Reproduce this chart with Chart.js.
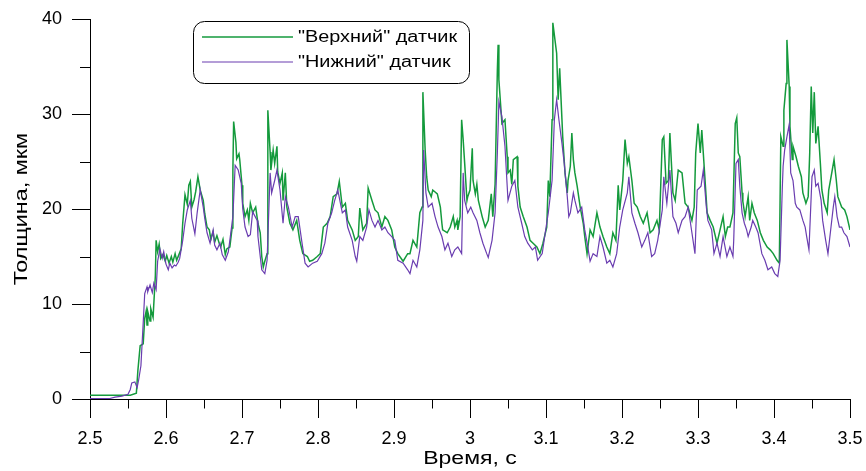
<!DOCTYPE html>
<html>
<head>
<meta charset="utf-8">
<script src="https://cdn.jsdelivr.net/npm/chart.js@4.4.1/dist/chart.umd.min.js"></script>
<style>
  body { margin: 0; background: #fff; }
  canvas { display: block; }
</style>
</head>
<body>
<canvas id="thickness" width="866" height="471"></canvas>
<script>
// "Верхний" датчик
const topTime = [2.500,2.526,2.553,2.561,2.563,2.566,2.570,2.572,2.574,2.575,2.576,2.579,2.580,2.583,2.586,2.587,2.589,2.591,2.593,2.596,2.599,2.601,2.604,2.607,2.609,2.612,2.614,2.617,2.620,2.622,2.625,2.628,2.630,2.632,2.634,2.637,2.639,2.642,2.645,2.649,2.651,2.654,2.657,2.659,2.662,2.664,2.667,2.670,2.672,2.675,2.678,2.680,2.684,2.687,2.688,2.689,2.692,2.693,2.696,2.697,2.700,2.701,2.704,2.707,2.709,2.711,2.714,2.718,2.721,2.724,2.726,2.728,2.730,2.733,2.734,2.737,2.738,2.741,2.743,2.746,2.747,2.750,2.753,2.754,2.757,2.759,2.763,2.767,2.772,2.776,2.780,2.786,2.789,2.793,2.799,2.803,2.807,2.812,2.816,2.820,2.825,2.828,2.832,2.836,2.839,2.845,2.849,2.853,2.855,2.859,2.864,2.866,2.871,2.875,2.879,2.884,2.888,2.892,2.897,2.901,2.905,2.912,2.918,2.921,2.925,2.930,2.934,2.937,2.938,2.941,2.943,2.945,2.949,2.951,2.957,2.961,2.963,2.964,2.970,2.974,2.978,2.980,2.983,2.984,2.987,2.989,2.991,2.993,2.996,2.997,3.000,3.003,3.004,3.007,3.009,3.011,3.016,3.020,3.024,3.028,3.030,3.033,3.036,3.037,3.038,3.042,3.046,3.049,3.050,3.053,3.055,3.057,3.062,3.063,3.066,3.070,3.075,3.079,3.083,3.088,3.092,3.096,3.101,3.103,3.105,3.108,3.109,3.114,3.116,3.118,3.121,3.122,3.125,3.128,3.129,3.132,3.134,3.136,3.138,3.141,3.145,3.149,3.151,3.154,3.158,3.162,3.167,3.171,3.175,3.180,3.184,3.188,3.192,3.195,3.197,3.201,3.204,3.207,3.209,3.213,3.216,3.220,3.224,3.228,3.233,3.237,3.241,3.246,3.249,3.253,3.255,3.258,3.261,3.263,3.267,3.270,3.274,3.279,3.283,3.287,3.292,3.295,3.297,3.300,3.303,3.305,3.309,3.312,3.316,3.320,3.325,3.329,3.333,3.336,3.339,3.342,3.346,3.349,3.351,3.353,3.355,3.358,3.359,3.362,3.366,3.368,3.371,3.374,3.378,3.382,3.386,3.391,3.395,3.399,3.404,3.407,3.409,3.412,3.413,3.416,3.417,3.420,3.421,3.424,3.425,3.429,3.432,3.436,3.438,3.442,3.445,3.447,3.449,3.451,3.453,3.455,3.458,3.461,3.463,3.466,3.470,3.472,3.476,3.479,3.482,3.484,3.489,3.493,3.496,3.500];
const topValue = [0.4,0.4,0.4,0.6,3.0,5.6,5.8,8.5,9.3,7.8,9.2,8.2,9.5,8.6,13,16.7,15.5,16.3,14.8,15.2,14.5,15.1,14.3,15.0,14.4,15.3,14.6,15.2,15.8,18.5,21.5,20.5,22.5,22.9,20.2,21.0,21.8,23.4,22.0,20.9,19.5,18.1,17.8,16.8,17.6,16.5,17.2,16.4,16.0,16.8,15.2,15.8,16.0,18.0,24,29.2,27,25.3,25.8,25.2,22.5,20.6,19.2,19.9,18.8,20.6,19.6,20.2,18.5,17.5,15.0,13.9,14.5,15.3,30.4,26,24.1,26.2,24.8,26.6,23.9,22.7,23.8,20.9,23.8,20.2,18.5,17.8,18.8,16.7,15.3,15.0,14.5,14.6,15.0,15.3,18.1,18.5,19.2,21.3,21.6,22.9,20.2,20.6,18.8,17.8,16.7,17.1,20.1,17.8,18.5,22.2,20.9,19.9,19.6,18.1,19.2,18.8,17.8,16.0,15.3,14.5,15.3,15.3,16.7,16.0,19.6,20.2,32.3,26.2,23.4,22.0,21.3,22.0,21.6,20.2,18.5,17.8,17.5,18.1,19.2,18.1,18.8,17.8,19.2,29.4,27.3,24.8,20.9,21.3,22.0,26.4,23.0,21.6,22.6,20.9,19.2,18.1,18.8,21.6,19.2,22.6,34.6,37.3,33.6,29.0,29.4,25.5,23.8,24.1,22.6,25.2,25.5,22.4,20.2,19.2,18.1,16.7,16.4,16.0,15.3,16.4,18.1,23.0,21.3,29.4,39.6,36.4,31.5,34.8,29.4,27.6,23.8,21.7,23.0,24.5,28.0,25.2,23.8,22.4,20.2,18.5,17.1,15.3,17.8,17.1,19.6,18.1,17.1,16.0,15.3,17.5,16.7,22.5,19.9,23.0,27.3,24.8,25.5,23.0,20.6,20.2,19.2,18.5,19.6,17.5,17.8,18.8,17.8,27.3,27.6,22.7,23.0,28.0,21.7,20.9,24.1,23.8,20.6,20.2,18.8,20.2,25.9,29.0,25.9,28.3,23.4,19.6,18.8,18.1,16.4,17.8,19.2,17.1,18.1,18.1,19.6,29.0,29.6,25.9,25.5,21.7,20.8,19.2,21.3,18.8,20.6,19.6,18.8,17.5,16.7,16.0,15.7,15.3,14.6,14.3,27.6,26.6,30.4,33.2,37.8,32.9,28.7,25.2,26.6,25.5,24.5,23.4,21.7,20.6,21.3,25.9,32.9,28.0,32.3,26.9,28.7,24.8,22.0,20.6,19.6,22.0,23.8,25.2,23.0,21.3,20.2,19.9,19.2,17.8];

// "Нижний" датчик
const bottomTime = [2.500,2.526,2.533,2.542,2.550,2.553,2.555,2.559,2.562,2.564,2.567,2.570,2.572,2.575,2.576,2.579,2.582,2.584,2.587,2.589,2.592,2.595,2.597,2.600,2.603,2.605,2.608,2.611,2.613,2.616,2.618,2.622,2.625,2.628,2.632,2.634,2.638,2.641,2.645,2.649,2.651,2.654,2.658,2.662,2.664,2.667,2.671,2.674,2.678,2.682,2.684,2.688,2.691,2.695,2.699,2.701,2.704,2.708,2.711,2.714,2.720,2.721,2.726,2.730,2.733,2.737,2.739,2.743,2.746,2.750,2.754,2.757,2.761,2.766,2.770,2.774,2.779,2.783,2.787,2.793,2.799,2.805,2.809,2.813,2.818,2.822,2.826,2.832,2.836,2.839,2.845,2.849,2.851,2.855,2.859,2.864,2.867,2.871,2.875,2.879,2.884,2.888,2.892,2.897,2.901,2.905,2.912,2.918,2.921,2.925,2.930,2.934,2.938,2.939,2.942,2.945,2.950,2.954,2.958,2.963,2.967,2.971,2.976,2.980,2.984,2.989,2.991,2.993,2.997,3.001,3.004,3.009,3.013,3.017,3.022,3.024,3.029,3.033,3.036,3.038,3.042,3.046,3.050,3.055,3.059,3.063,3.068,3.072,3.076,3.082,3.086,3.089,3.095,3.099,3.103,3.108,3.111,3.114,3.117,3.121,3.124,3.128,3.130,3.132,3.136,3.138,3.142,3.147,3.151,3.155,3.158,3.162,3.167,3.171,3.175,3.180,3.184,3.188,3.193,3.197,3.201,3.207,3.209,3.213,3.217,3.221,3.226,3.230,3.234,3.239,3.243,3.247,3.253,3.255,3.259,3.263,3.267,3.271,3.274,3.279,3.283,3.287,3.292,3.296,3.299,3.304,3.307,3.311,3.313,3.318,3.321,3.325,3.329,3.333,3.338,3.342,3.346,3.347,3.350,3.353,3.355,3.358,3.361,3.364,3.366,3.370,3.372,3.376,3.379,3.384,3.388,3.392,3.397,3.401,3.405,3.408,3.411,3.412,3.414,3.417,3.420,3.422,3.425,3.428,3.430,3.434,3.438,3.441,3.443,3.446,3.450,3.453,3.455,3.458,3.462,3.464,3.468,3.471,3.475,3.478,3.480,3.483,3.486,3.489,3.492,3.496,3.500];
const bottomValue = [0.05,0.05,0.2,0.3,0.5,1.0,1.7,1.8,1.2,2.0,3.5,8,11.1,11.8,11.3,12.0,11.2,12.2,11.5,14.5,15.8,14.8,15.5,14.2,13.6,14.3,13.8,14.1,14.0,14.4,14.8,16.7,18.5,19.9,20.9,19.0,17.4,19.6,22.0,20.2,19.0,17.5,16.4,17.8,16.2,15.7,16.4,15.2,14.6,15.5,16.7,19.2,24.6,24.1,22.7,20.0,18.1,17.1,17.3,19.7,18.8,17.1,13.6,13.2,14.6,23.8,21.7,23.0,24.1,22.0,18.5,21.3,20.2,18.1,19.2,19.2,16.4,14.3,13.9,14.3,14.5,15.3,16.4,18.5,19.6,20.9,22.0,19.6,19.9,18.1,16.7,15.0,14.5,17.1,16.7,18.1,19.9,18.8,18.1,18.8,17.8,18.1,17.5,17.1,16.7,14.6,14.3,13.6,13.2,14.6,13.9,15.7,18.8,26.2,21.7,20.2,20.6,19.2,18.1,17.1,15.7,16.4,15.0,15.7,16.0,15.3,23.8,20.9,19.6,20.2,19.6,18.8,17.5,16.4,15.3,14.9,16.7,19.6,25.9,31.3,29.7,26.6,20.9,22.4,23.0,20.2,18.5,17.1,16.4,15.7,16.0,14.6,15.3,17.5,19.6,23.0,29.4,31.5,29.4,26.9,24.8,21.3,19.2,19.6,21.7,20.9,19.6,20.2,17.8,16.0,14.5,15.3,15.0,17.1,16.0,14.3,14.6,13.9,15.3,18.1,19.9,21.7,23.4,19.6,18.5,17.5,16.0,16.7,17.5,15.0,15.3,16.7,19.9,23.4,20.6,24.1,19.2,18.5,17.5,18.8,19.2,20.2,17.5,15.3,22.0,22.4,24.1,20.2,18.8,17.8,15.3,16.4,15.0,17.1,15.0,16.0,15.0,16.7,24.8,25.2,22.4,19.6,18.5,17.8,17.1,18.1,18.8,18.1,17.5,15.3,14.6,13.6,13.9,13.2,12.9,14.6,22.4,24.5,26.2,27.6,28.9,23.8,23.0,20.6,20.2,19.9,18.8,18.1,17.1,15.7,23.4,24.1,22.4,22.7,20.9,18.8,16.7,15.3,18.1,20.2,21.3,19.2,18.1,18.1,17.5,17.1,16.0];

const seriesNames = ['"Верхний" датчик', '"Нижний" датчик'];
const seriesColors = ['#149a3c', '#6a3db0'];
const xTitle = 'Время, с';
const yTitle = 'Толщина, мкм';

const fontFamily = '"Liberation Sans", Arial, sans-serif';

function toPoints(times, values) {
    return times.map((t, i) => ({ x: t, y: values[i] }));
}

// text in the original figure is wider than Arial at the same height
function wideText(ctx, text, x, y, stretch) {
    ctx.save();
    ctx.translate(x, y);
    ctx.scale(stretch, 1);
    ctx.fillText(text, 0, 0);
    ctx.restore();
}

// major/minor tick marks drawn from the scales' own ticks
const tickMarks = {
    id: 'tickMarks',
    afterDraw(chart) {
        const ctx = chart.ctx;
        const xs = chart.scales.x;
        const ys = chart.scales.y;
        ctx.save();
        ctx.strokeStyle = '#000';
        ctx.lineWidth = 1;
        ctx.beginPath();
        xs.ticks.forEach(t => {
            const px = Math.round(xs.getPixelForValue(t.value)) + 0.5;
            const len = t.label !== '' ? 19 : 9.5;
            ctx.moveTo(px, ys.bottom);
            ctx.lineTo(px, ys.bottom + len);
        });
        ys.ticks.forEach(t => {
            const py = Math.round(ys.getPixelForValue(t.value)) + 0.5;
            const len = t.label !== '' ? 18 : 10;
            ctx.moveTo(xs.left, py);
            ctx.lineTo(xs.left - len, py);
        });
        ctx.stroke();

        // axis titles
        const area = chart.chartArea;
        ctx.fillStyle = '#000';
        ctx.font = '18px ' + fontFamily;
        ctx.textAlign = 'center';
        ctx.textBaseline = 'middle';
        wideText(ctx, xTitle, (area.left + area.right) / 2, 459, 1.28);
        ctx.save();
        ctx.translate(22, (area.top + area.bottom) / 2);
        ctx.rotate(-Math.PI / 2);
        wideText(ctx, yTitle, 0, 0, 1.3);
        ctx.restore();
        ctx.restore();
    }
};

// framed legend with rounded corners
const boxLegend = {
    id: 'boxLegend',
    afterDraw(chart) {
        const ctx = chart.ctx;
        const x = 193.5, y = 21.5, w = 276, h = 62, r = 11;
        ctx.save();
        ctx.fillStyle = '#fff';
        ctx.strokeStyle = '#000';
        ctx.lineWidth = 1;
        ctx.beginPath();
        ctx.roundRect(x, y, w, h, r);
        ctx.fill();
        ctx.stroke();
        ctx.font = '16px ' + fontFamily;
        ctx.textBaseline = 'middle';
        ctx.textAlign = 'left';
        ctx.fillStyle = '#000';
        seriesNames.forEach((name, i) => {
            const ly = 37 + i * 25;
            ctx.strokeStyle = seriesColors[i];
            ctx.lineWidth = i === 0 ? 1.5 : 1.2;
            ctx.beginPath();
            ctx.moveTo(202, ly);
            ctx.lineTo(293, ly);
            ctx.stroke();
            wideText(ctx, name, 298, ly + 1, 1.24);
        });
        ctx.restore();
    }
};

new Chart(document.getElementById('thickness'), {
    type: 'line',
    data: {
        datasets: [{
            label: seriesNames[0],
            data: toPoints(topTime, topValue),
            borderColor: seriesColors[0],
            borderWidth: 1.5,
            pointRadius: 0,
            tension: 0,
            order: 1
        }, {
            label: seriesNames[1],
            data: toPoints(bottomTime, bottomValue),
            borderColor: seriesColors[1],
            borderWidth: 1.2,
            pointRadius: 0,
            tension: 0,
            order: 0
        }]
    },
    options: {
        responsive: false,
        animation: false,
        layout: { padding: { top: 19, right: 16, left: 0, bottom: 0 } },
        plugins: {
            legend: { display: false },
            tooltip: { enabled: false }
        },
        scales: {
            x: {
                type: 'linear',
                min: 2.5,
                max: 3.5,
                grid: { display: false, drawTicks: false },
                border: { display: true, color: '#000', width: 1 },
                ticks: {
                    stepSize: 0.05,
                    autoSkip: false,
                    maxRotation: 0,
                    padding: 29,
                    color: '#000',
                    font: { family: fontFamily, size: 18 },
                    callback: v => {
                        const k = Math.round(v * 100);
                        return k % 10 === 0 ? String(k / 100) : '';
                    }
                },
                afterFit: s => {
                    s.height = 72;
                    s.paddingLeft = 0;
                    s.paddingRight = 0;
                }
            },
            y: {
                min: 0,
                max: 40,
                grid: { display: false, drawTicks: false },
                border: { display: true, color: '#000', width: 1 },
                ticks: {
                    stepSize: 2.5,
                    padding: 28,
                    color: '#000',
                    font: { family: fontFamily, size: 18 },
                    callback: v => (v % 10 === 0 ? String(v) : '')
                },
                afterFit: s => {
                    s.width = 90;
                    s.paddingTop = 0;
                    s.paddingBottom = 0;
                }
            }
        }
    },
    plugins: [tickMarks, boxLegend]
});
</script>
</body>
</html>
